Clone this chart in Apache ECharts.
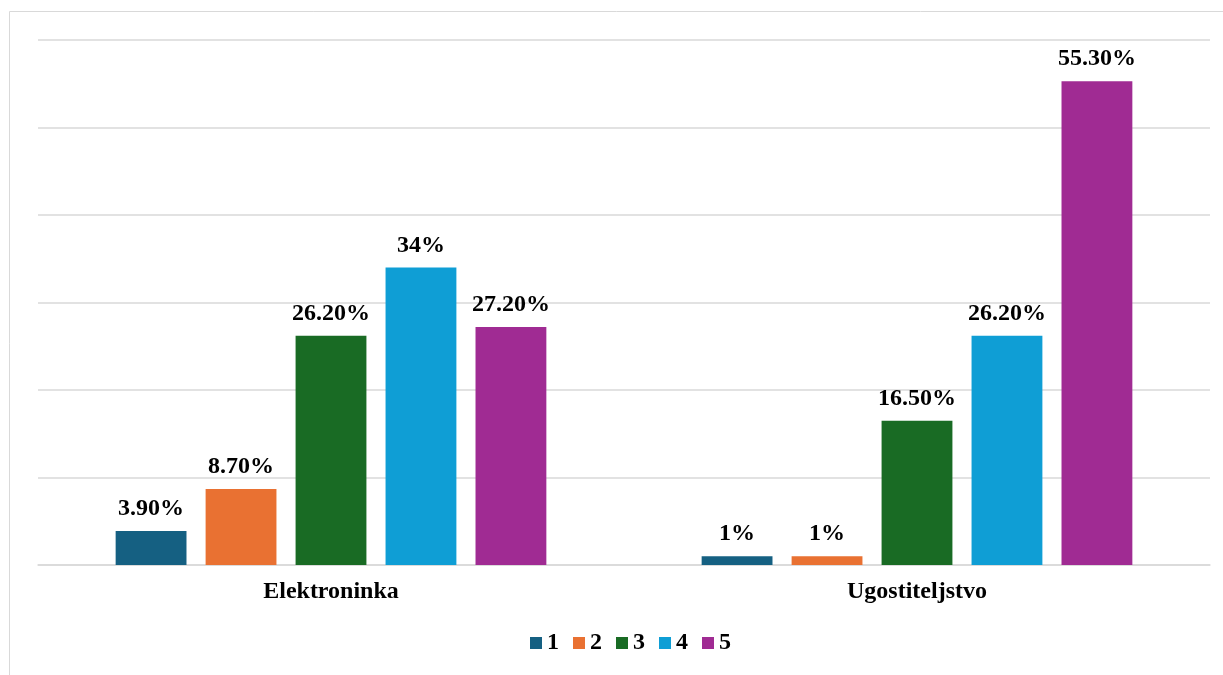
<!DOCTYPE html>
<html>
<head>
<meta charset="utf-8">
<script src="https://cdn.jsdelivr.net/npm/echarts@6/dist/echarts.min.js"></script>
<style>
  html, body { margin: 0; padding: 0; background: #fff; }
  #chart { width: 1223px; height: 675px; }
</style>
</head>
<body>
<div id="chart"></div>
<script>
const categories = ["Elektroninka", "Ugostiteljstvo"];
const seriesNames = ["1", "2", "3", "4", "5"];
const seriesColors = ["#156082", "#E97132", "#196B24", "#0F9ED5", "#A02B93"];
const values1 = [3.9, 1];
const values2 = [8.7, 1];
const values3 = [26.2, 16.5];
const values4 = [34, 26.2];
const values5 = [27.2, 55.3];
const allValues = [values1, values2, values3, values4, values5];

const font = "'Liberation Serif', 'Times New Roman', serif";

const chart = echarts.init(document.getElementById("chart"));

function fmt(v) {
  return (Number.isInteger(v) ? v : v.toFixed(2)) + "%";
}

chart.setOption({
  animation: false,
  textStyle: { fontFamily: font },
  graphic: [
    {
      type: "rect",
      shape: { x: 9.5, y: 11.5, width: 1230, height: 700 },
      style: { fill: "none", stroke: "#d9d9d9", lineWidth: 1 },
    },
  ],
  legend: {
    bottom: 15,
    left: 525,
    itemWidth: 12,
    itemHeight: 12,
    itemGap: 14,
    icon: "rect",
    data: seriesNames,
    textStyle: { fontFamily: font, fontWeight: "bold", fontSize: 24, color: "#000" },
  },
  grid: {
    left: 38,
    right: 13,
    top: 40,
    bottom: 110,
    containLabel: false,
  },
  xAxis: {
    type: "category",
    data: categories,
    axisTick: { show: false },
    axisLine: { lineStyle: { color: "#d9d9d9", width: 1.5 } },
    axisLabel: {
      color: "#000",
      fontFamily: font,
      fontWeight: "bold",
      fontSize: 24,
      margin: 15,
    },
  },
  yAxis: {
    type: "value",
    min: 0,
    max: 60,
    interval: 10,
    axisLabel: { show: false },
    axisLine: { show: false },
    axisTick: { show: false },
    splitLine: { lineStyle: { color: "#d9d9d9", width: 1.5 } },
  },
  series: seriesNames.map((name, i) => ({
    name,
    type: "bar",
    data: allValues[i],
    barGap: "27%",
    barCategoryGap: "26.5%",
    itemStyle: { color: seriesColors[i] },
    label: {
      show: true,
      position: "top",
      distance: 10,
      color: "#000",
      fontFamily: font,
      fontWeight: "bold",
      fontSize: 24,
      formatter: (p) => fmt(p.value),
    },
  })),
});
</script>
</body>
</html>
